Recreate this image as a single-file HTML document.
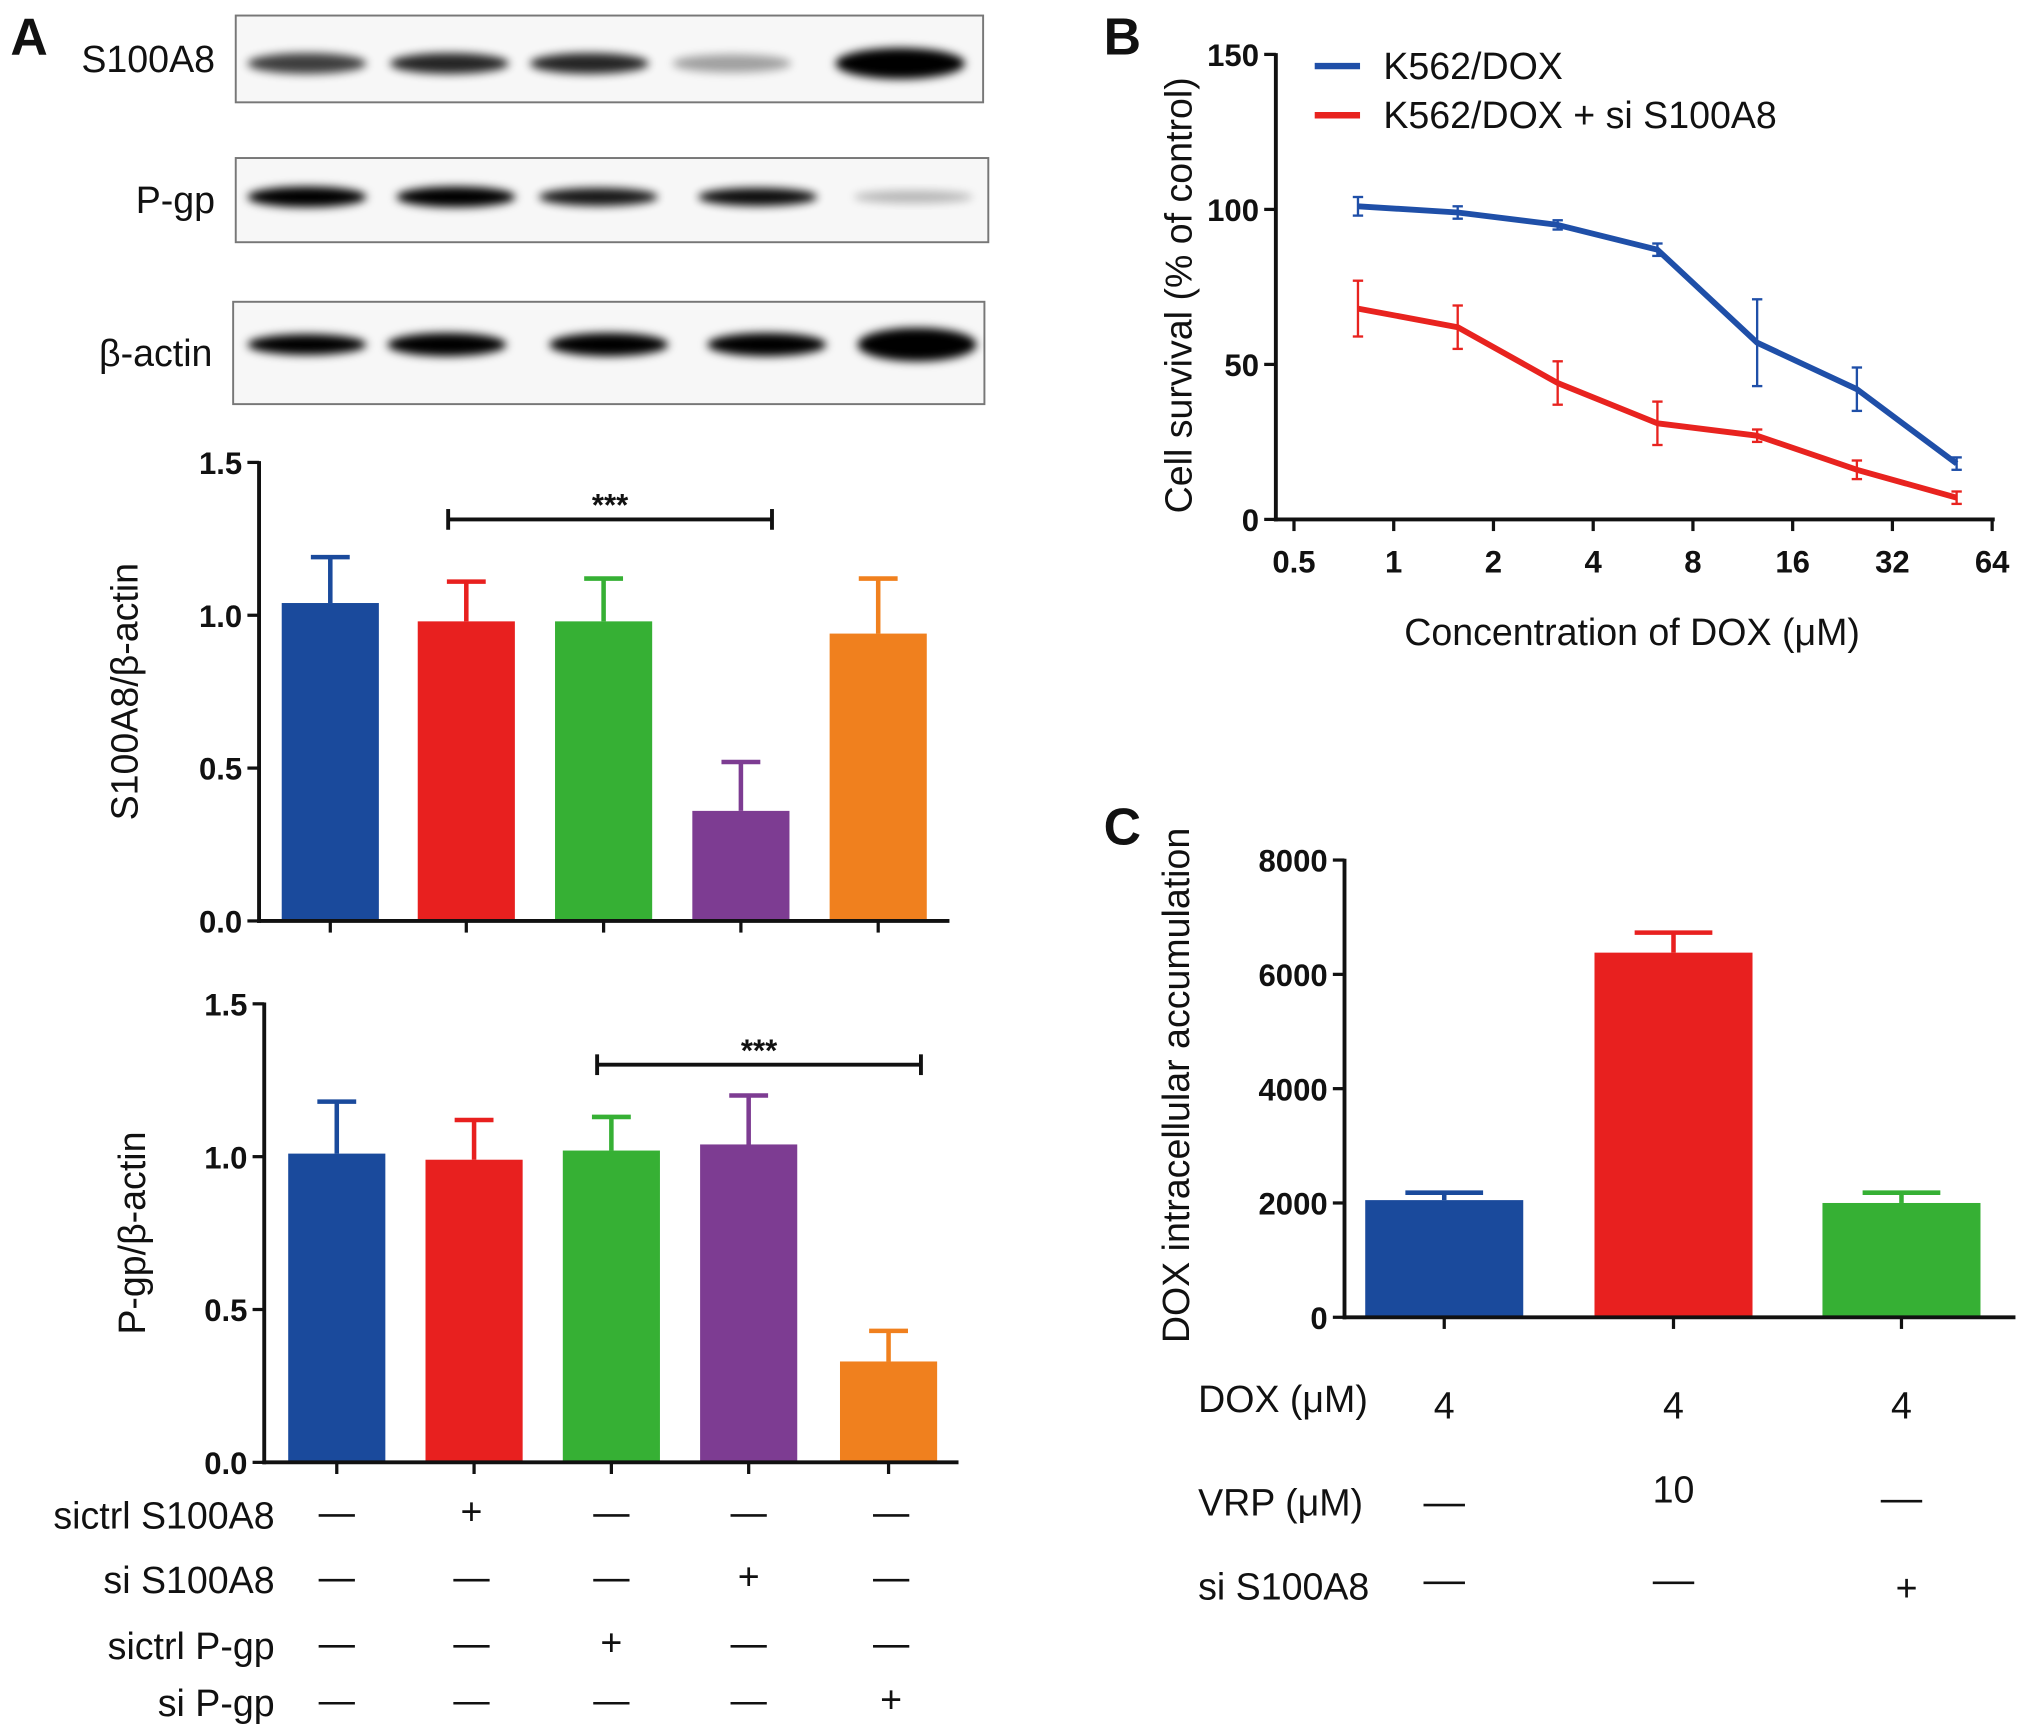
<!DOCTYPE html>
<html><head><meta charset="utf-8"><style>
html,body{margin:0;padding:0;background:#fff}
svg{display:block}
text{font-family:"Liberation Sans",sans-serif;fill:#111}
.tk{font-weight:bold;font-size:24px}
.lab{font-size:29px}
.pl{font-weight:bold;font-size:40px}
</style></head><body>
<svg id="fig" width="2031" height="1735" viewBox="0 0 1568 1339.5" preserveAspectRatio="none" xmlns="http://www.w3.org/2000/svg">
<defs><filter id="blur" x="-20%" y="-50%" width="140%" height="200%"><feGaussianBlur stdDeviation="3.5"/></filter></defs>
<g id="root"></g>
</svg>
<script>
// Panel A data
const aCats=["c1","c2","c3","c4","c5"];
const a1Vals=[1.04,0.98,0.98,0.36,0.94];
const a1Err=[0.15,0.13,0.14,0.16,0.18];
const a2Vals=[1.01,0.99,1.02,1.04,0.33];
const a2Err=[0.17,0.13,0.11,0.16,0.10];
const aTicks=[0,0.5,1.0,1.5];
const aTickLabels=["0.0","0.5","1.0","1.5"];
const rowLabels=["sictrl S100A8","si S100A8","sictrl P-gp","si P-gp"];
const rowMarks=[["—","+","—","—","—"],["—","—","—","+","—"],["—","—","+","—","—"],["—","—","—","—","+"]];
// Panel B data
const bX=[0.78,1.56,3.125,6.25,12.5,25,50];
const bBlue=[101,99,95,87,57,42,18];
const bBlueErr=[3,2,1.5,2,14,7,2];
const bRed=[68,62,44,31,27,16,7];
const bRedErr=[9,7,7,7,2,3,2];
const bXTicks=[0.5,1,2,4,8,16,32,64];
const bYTicks=[0,50,100,150];
// Panel C data
const cVals=[2050,6380,2000];
const cErr=[130,350,180];
const cYTicks=[0,2000,4000,6000,8000];
const cDox=["4","4","4"];
const cVrp=["—","10","—"];
const cSi=["—","—","+"];
const colors=["#1a4a9c","#e8201f","#36b034","#7d3c92","#f0801e"];

const NS="http://www.w3.org/2000/svg";
const root=document.getElementById('root');
function el(tag,attrs,parent,txt){const e=document.createElementNS(NS,tag);for(const k in attrs)e.setAttribute(k,attrs[k]);if(txt!==undefined)e.textContent=txt;(parent||root).appendChild(e);return e;}
function line(x1,y1,x2,y2,c,w,p){return el('line',{x1,y1,x2,y2,stroke:c||'#111','stroke-width':w||3},p);}

let t=el('text',{x:8,y:42,class:'pl'},root,'A');


t=el('text',{x:852,y:42,class:'pl'},root,'B');


t=el('text',{x:852,y:652,class:'pl'},root,'C');



// Western blots
const blots=[{n:'S100A8',x:182,y:12,w:577,h:67,band:[[.75,8],[.85,8],[.85,8],[.35,7],[1,12]],by:49},
 {n:'P-gp',x:182,y:122,w:581,h:65,band:[[1,8],[1,8],[.9,7],[.95,7],[.25,5]],by:152},
 {n:'β-actin',x:180,y:233,w:580,h:79,band:[[1,8],[1,9],[1,9],[1,9],[1,13]],by:266}];
const bandX=[[237,347,455,565,695],[237,352,462,585,705],[237,345,470,592,708]];
blots.forEach((b,i)=>{
 const g=el('g',{});
 
 
 el('rect',{x:b.x,y:b.y,width:b.w,height:b.h,fill:'#f7f7f7',stroke:'#777','stroke-width':1.5},g);
 b.band.forEach((bd,j)=>{el('ellipse',{cx:bandX[i][j],cy:b.by,rx:i==0&&j==4?50:46,ry:bd[1],fill:'#000',opacity:bd[0],filter:'url(#blur)'},g);});
 el('text',{x:b.x-16,y:b.y+b.h/2+10,'text-anchor':'end',class:'lab'},g,b.n);
});

function barChart(name,axX,yTop,yBot,axEnd,centers,vals,errs,bw,maxV,ticks,tickLabels,yTitle,titleX,brk){
 const g=el('g',{});
 
 
 const sy=v=>yBot-(v/maxV)*(yBot-yTop);
 vals.forEach((v,i)=>{
  const top=sy(v);
  const r=el('rect',{x:centers[i]-bw/2,y:top,width:bw,height:yBot-top,fill:colors[i]},g);
  
  
  const et=sy(v+errs[i]);
  line(centers[i],top,centers[i],et,colors[i],3.5,g);
  line(centers[i]-bw*0.2,et,centers[i]+bw*0.2,et,colors[i],3.5,g);
  line(centers[i],yBot,centers[i],yBot+9,'#111',2.5,g);
 });
 line(axX,yTop-1,axX,yBot+1.5,'#111',3,g);
 line(axX-1.5,yBot,axEnd,yBot,'#111',3,g);
 ticks.forEach((tv,i)=>{const y=sy(tv);line(axX-9,y,axX,y,'#111',2.5,g);el('text',{x:axX-13,y:y+9,'text-anchor':'end',class:'tk'},g,tickLabels[i]);});
 const tt=el('text',{x:titleX,y:(yTop+yBot)/2,transform:`rotate(-90 ${titleX} ${(yTop+yBot)/2})`,'text-anchor':'middle',class:'lab'},g,yTitle);
 
 
 if(brk){
  line(brk[0],brk[2],brk[1],brk[2],'#111',3,g);
  line(brk[0],brk[2]-8,brk[0],brk[2]+8,'#111',3,g);
  line(brk[1],brk[2]-8,brk[1],brk[2]+8,'#111',3,g);
  el('text',{x:(brk[0]+brk[1])/2,y:brk[2]-3,'text-anchor':'middle',class:'tk','font-size':24},g,'***');
 }
 return g;
}
barChart('chart-s100a8-ratio',200,357,711,733,[255,360,466,572,678],a1Vals,a1Err,75,1.5,aTicks,aTickLabels,'S100A8/β-actin',106,[346,596,401]);
barChart('chart-pgp-ratio',204,775,1129,740,[260,366,472,578,686],a2Vals,a2Err,75,1.5,aTicks,aTickLabels,'P-gp/β-actin',112,[461,711,822]);

// A table
const rowY=[1170,1220,1271,1315];
const colX=[260,364,472,578,688];
const tg=el('g',{});


rowLabels.forEach((l,r)=>{
 el('text',{x:212,y:rowY[r]+10,'text-anchor':'end',class:'lab'},tg,l);
 rowMarks[r].forEach((m,c)=>{
  if(m==='+')el('text',{x:colX[c],y:rowY[r]+7,'text-anchor':'middle',class:'lab','font-size':26},tg,'+');
  else line(colX[c]-14,rowY[r],colX[c]+14,rowY[r],'#111',2,tg);
 });
});

// Panel B
(function(){
 const g=el('g',{});
 
 
 const ax=985,yT=42,yB=401,xE=1540;
 const sx=v=>999+77*(Math.log2(v)+1);
 const sy=v=>yB-v/150*(yB-yT);
 line(ax,yT-1,ax,yB+1.5,'#111',3,g);
 line(ax-1.5,yB,xE,yB,'#111',3,g);
 bYTicks.forEach(v=>{line(ax-9,sy(v),ax,sy(v),'#111',2.5,g);el('text',{x:ax-13,y:sy(v)+9,'text-anchor':'end',class:'tk'},g,String(v));});
 bXTicks.forEach(v=>{const x=sx(v);line(x,yB,x,yB+9,'#111',2.5,g);el('text',{x:x,y:yB+41,'text-anchor':'middle',class:'tk'},g,String(v));});
 [[bBlue,bBlueErr,'#1f4fa8','k562-dox'],[bRed,bRedErr,'#e8231f','k562-dox-si-s100a8']].forEach(s=>{
  const pts=bX.map((x,i)=>sx(x)+','+sy(s[0][i])).join(' ');
  const pl=el('polyline',{points:pts,fill:'none',stroke:s[2],'stroke-width':4.5,'stroke-linejoin':'round'},g);
  
  
  bX.forEach((x,i)=>{const X=sx(x),a=sy(s[0][i]+s[1][i]),b=sy(s[0][i]-s[1][i]);
   line(X,a,X,b,s[2],1.8,g);line(X-4,a,X+4,a,s[2],1.8,g);line(X-4,b,X+4,b,s[2],1.8,g);});
 });
 const lg=el('g',{},g);
 
 
 line(1015,51,1050,51,'#1f4fa8',5,lg);el('text',{x:1068,y:61,class:'lab','font-size':27},lg,'K562/DOX');
 line(1015,89,1050,89,'#e8231f',5,lg);el('text',{x:1068,y:99,class:'lab','font-size':27},lg,'K562/DOX + si S100A8');
 el('text',{x:920,y:228,transform:'rotate(-90 920 228)','text-anchor':'middle',class:'lab'},g,'Cell survival (% of control)');
 el('text',{x:1260,y:498,'text-anchor':'middle',class:'lab'},g,'Concentration of DOX (μM)');
})();

// Panel C
(function(){
 const g=el('g',{});
 
 
 const ax=1038,yT=664,yB=1017,xE=1556,cx=[1115,1292,1468],bw=122;
 const sy=v=>yB-v/8000*(yB-yT);
 const cc=["#1a4a9c","#e8201f","#36b034"];
 cVals.forEach((v,i)=>{
  const r=el('rect',{x:cx[i]-bw/2,y:sy(v),width:bw,height:yB-sy(v),fill:cc[i]},g);
  
  
  const et=sy(v+cErr[i]);
  line(cx[i],sy(v),cx[i],et,cc[i],3.5,g);line(cx[i]-30,et,cx[i]+30,et,cc[i],3.5,g);
  line(cx[i],yB,cx[i],yB+9,'#111',2.5,g);
 });
 line(ax,yT-1,ax,yB+1.5,'#111',3,g);
 line(ax-1.5,yB,xE,yB,'#111',3,g);
 cYTicks.forEach(v=>{line(ax-9,sy(v),ax,sy(v),'#111',2.5,g);el('text',{x:ax-13,y:sy(v)+9,'text-anchor':'end',class:'tk'},g,String(v));});
 el('text',{x:918,y:838,transform:'rotate(-90 918 838)','text-anchor':'middle',class:'lab'},g,'DOX intracellular accumulation');
 const rows=[["DOX (μM)",1080,cDox,[1090,1090,1090]],["VRP (μM)",1160,cVrp,[1162,1155,1159]],["si S100A8",1225,cSi,[1222,1222,1228]]];
 rows.forEach(r=>{
  el('text',{x:925,y:r[1]+10,class:'lab'},g,r[0]);
  r[2].forEach((m,i)=>{
   const x=cx[i];
   if(m==='—')line(x-16,r[3][i],x+16,r[3][i],'#111',2,g);
   else el('text',{x:x+(m==='+'?4:0),y:r[3][i]+(m==='+'?8:5),'text-anchor':'middle',class:'lab','font-size':m==='+'?26:29},g,m);
  });
 });
})();
</script>
</body></html>
